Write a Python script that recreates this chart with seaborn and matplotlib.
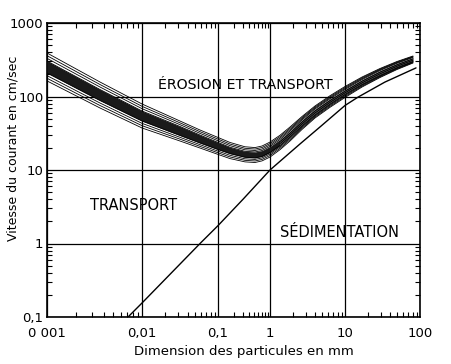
import matplotlib

matplotlib.use("Agg")

import matplotlib.pyplot as plt
import numpy as np
import seaborn as sns
from matplotlib.ticker import FixedFormatter, FixedLocator, NullFormatter

# erosion band (grain size in mm, speed in cm/s)
band_size = [0.001, 0.00361, 0.01, 0.0316, 0.058, 0.1, 0.170, 0.330, 0.515, 0.702, 1.0,
             1.36, 1.85, 2.67, 3.98, 6.31, 10.0, 16.9, 29.3, 49.4, 80.7]
band_top = [304, 124.5, 63.5, 39.1, 29.9, 23.7, 20.4, 17.96, 17.6, 18.4, 20.9,
            26.0, 33.9, 47.9, 67.6, 93.1, 124.5, 170.3, 225.8, 283, 339.4]
band_bottom = [209, 88.2, 46.4, 29.5, 23.3, 19.0, 16.7, 14.9, 14.6, 15.3, 17.3,
               21.5, 28.1, 39.7, 56.0, 78.6, 106.5, 145.6, 193.1, 246.6, 299.4]
outer_top = [391, 157.5, 79.1, 46.4, 35.0, 27.7, 23.7, 20.7, 20.2, 21.2, 24.0,
             29.7, 38.5, 53.4, 74.3, 102.5, 136.8, 184.2, 240.4, 299.4, 355.6]
outer_bottom = [163, 69.8, 37.3, 24.8, 19.9, 16.3, 14.3, 12.9, 12.65, 13.3, 15.0,
                18.9, 24.8, 35.6, 51.0, 71.3, 96.9, 134.7, 181.3, 233.1, 285.6]

# sedimentation curve
sed_size = [0.00713, 0.01, 0.0597, 0.1, 0.303, 1.0, 1.58, 2.51, 4.64, 10.0, 14.9, 34.0, 88.5]
sed_speed = [0.1, 0.155, 1.03, 1.75, 4.0, 10.0, 15.0, 22.6, 38.5, 75.5, 98, 157, 245]

x_ticks = [0.001, 0.01, 0.1, 1, 10, 100]
x_labels = ["0 001", "0,01", "0,1", "1", "10", "100"]
y_ticks = [0.1, 1, 10, 100, 1000]
y_labels = ["0,1", "1", "10", "100", "1000"]

# the printed x axis does not give each decade the same width
DECADE_LOG = [-3, -2, -1, 0, 1, 2]
DECADE_POS = [0, 95, 171, 223, 298, 373]
SOLID_UNTIL = 1.36  # past this size the band is drawn as a bundle of lines


def size_forward(x):
    lx = np.log10(np.clip(np.asarray(x, dtype=float), 1e-12, None))
    pos = np.interp(lx, DECADE_LOG, DECADE_POS)
    pos = np.where(lx < -3, (lx + 3) * 95, pos)
    pos = np.where(lx > 2, 373 + (lx - 2) * 75, pos)
    return pos


def size_inverse(p):
    p = np.asarray(p, dtype=float)
    lx = np.interp(p, DECADE_POS, DECADE_LOG)
    lx = np.where(p < 0, -3 + p / 95, lx)
    lx = np.where(p > 373, 2 + (p - 373) / 75, lx)
    return 10 ** lx


def blend(a, b, frac):
    a = np.log10(np.asarray(a, dtype=float))
    b = np.log10(np.asarray(b, dtype=float))
    return 10 ** (a + frac * (b - a))


sns.set_theme(style="ticks")
plt.rcParams["font.family"] = ["DejaVu Sans"]
plt.rcParams["text.color"] = "black"
plt.rcParams["axes.labelcolor"] = "black"

fig = plt.figure(figsize=(4.51, 3.64), dpi=100)
ax = fig.add_axes([47 / 451, 1 - 317 / 364, 373 / 451, 294 / 364])
ax.set_xscale("function", functions=(size_forward, size_inverse))
ax.set_yscale("log")

sizes = np.asarray(band_size)
ax.fill_between(band_size, band_bottom, band_top, where=sizes <= SOLID_UNTIL,
                color="#1a1a1a", lw=0, zorder=3)
ax.fill_between(band_size, band_bottom, band_top, where=sizes >= SOLID_UNTIL,
                color="#5a5a5a", lw=0, zorder=3)
for frac in (0.0, 1 / 3, 2 / 3, 1.0):
    sns.lineplot(x=band_size, y=blend(band_top, outer_top, frac), sort=False, estimator=None,
                 color="black", lw=0.6, ax=ax, zorder=4)
    sns.lineplot(x=band_size, y=blend(band_bottom, outer_bottom, frac), sort=False, estimator=None,
                 color="black", lw=0.6, ax=ax, zorder=4)

# inner strokes of the bundle where the band stops being solid
inner = sizes >= SOLID_UNTIL
for frac in (1 / 3, 2 / 3):
    sns.lineplot(x=sizes[inner], y=blend(band_bottom, band_top, frac)[inner], sort=False,
                 estimator=None, color="black", lw=0.7, ax=ax, zorder=4)

sns.lineplot(x=sed_size, y=sed_speed, sort=False, estimator=None, color="black", lw=1.0, ax=ax, zorder=4)

ax.set_xlim(0.001, 100)
ax.set_ylim(0.1, 1000)

minor_x = [m * 10.0 ** e for e in range(-3, 2) for m in range(2, 10)]
minor_y = [m * 10.0 ** e for e in range(-1, 3) for m in range(2, 10)]
ax.xaxis.set_major_locator(FixedLocator(x_ticks))
ax.xaxis.set_major_formatter(FixedFormatter(x_labels))
ax.xaxis.set_minor_locator(FixedLocator(minor_x))
ax.xaxis.set_minor_formatter(NullFormatter())
ax.yaxis.set_major_locator(FixedLocator(y_ticks))
ax.yaxis.set_major_formatter(FixedFormatter(y_labels))
ax.yaxis.set_minor_locator(FixedLocator(minor_y))
ax.yaxis.set_minor_formatter(NullFormatter())

ax.grid(True, which="major", color="black", lw=0.9)
ax.tick_params(which="both", direction="in", top=True, right=True, colors="black")
ax.tick_params(which="major", length=0, labelsize=9.5)
ax.tick_params(which="minor", length=3.5, width=0.8)
ax.tick_params(axis="x", which="major", pad=7)
ax.tick_params(axis="y", which="major", pad=2.5)
for spine in ax.spines.values():
    spine.set_color("black")
    spine.set_linewidth(1.2)

ax.set_xlabel("Dimension des particules en mm", fontsize=9.5, va="center")
ax.xaxis.set_label_coords(0.527, -0.119)
ax.set_ylabel("Vitesse du courant en cm/sec", fontsize=9, va="center")
ax.yaxis.set_label_coords(-0.09, 0.573)

ax.text(0.33, 143, "ÉROSION ET TRANSPORT", fontsize=10.2, ha="center", va="center", zorder=5)
ax.text(0.0082, 3.34, "TRANSPORT", fontsize=10.5, ha="center", va="center", zorder=5)
ax.text(8.45, 1.39, "SÉDIMENTATION", fontsize=10.5, ha="center", va="center", zorder=5)

fig.savefig("out.png", dpi=100, facecolor="white")
plt.close(fig)
